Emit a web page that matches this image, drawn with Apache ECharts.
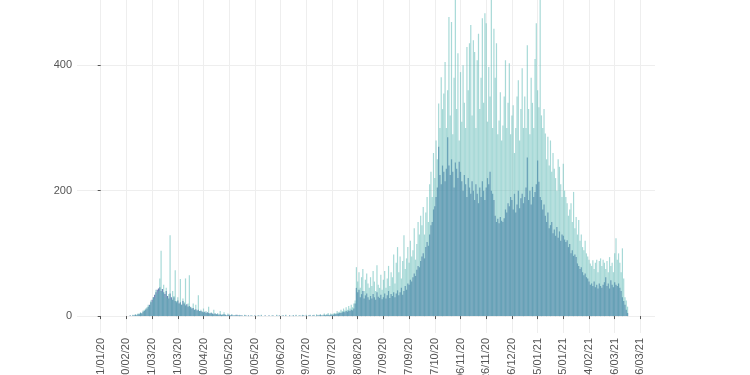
<!DOCTYPE html>
<html><head><meta charset="utf-8">
<script src="https://cdn.jsdelivr.net/npm/echarts@6/dist/echarts.min.js"></script>
<style>html,body{margin:0;padding:0;background:#fff}#c{width:750px;height:375px}</style>
</head><body><div id="c"></div>
<script>
const startDate = '2020-01-31';
const tickLabels = ['31/01/20','20/02/20','11/03/20','31/03/20','20/04/20','10/05/20','30/05/20','19/06/20','09/07/20','29/07/20','18/08/20','07/09/20','27/09/20','17/10/20','06/11/20','26/11/20','16/12/20','05/01/21','25/01/21','14/02/21','06/03/21','26/03/21'];
const yTicks = [0, 200, 400];
const blueValues = [
0,0,0,0,0,0,0,0,0,0, 0,0,0,0,0,0,0,0,0,0,
0,0,0,1,0,1,1,2,1,3, 3,5,4,7,8,10,12,15,18,22,
26,30,34,38,42,44,46,40,43,38, 35,40,32,28,36,30,26,30,24,22,
25,20,22,18,24,20,17,19,15,16, 14,12,13,10,11,9,10,8,8,7,
6,7,5,6,5,4,5,4,3,4, 3,3,2,3,2,2,3,2,1,2,
2,1,2,1,1,1,2,1,1,1, 1,0,1,1,0,1,0,1,0,0,
1,0,0,1,0,1,0,0,1,0, 0,1,0,0,1,0,0,1,0,1,
0,0,1,0,1,0,0,1,0,0, 1,0,1,0,0,1,0,1,1,0,
1,0,1,1,0,1,1,0,1,1, 1,2,1,1,2,1,2,2,1,2,
2,2,3,3,4,4,5,5,6,7, 6,8,7,9,8,10,9,12,20,45,
38,42,30,35,40,28,33,36,30,26, 32,28,35,30,26,38,31,29,34,27,
30,36,28,33,40,29,35,32,38,30, 36,41,33,38,45,34,40,48,42,52,
50,58,55,62,68,64,74,80,78,88, 95,100,92,110,118,112,130,145,150,170,
175,190,205,270,225,210,240,230,215,235, 285,240,225,250,230,205,245,235,220,246,
230,215,200,225,210,190,220,205,195,215, 200,185,210,195,180,205,190,215,200,185,
205,220,210,230,200,195,185,160,150,155, 148,158,152,150,156,170,165,180,175,190,
185,170,195,165,178,200,172,188,195,180, 190,205,253,185,200,178,206,190,198,210,
248,214,190,185,170,178,160,150,165,140, 145,150,132,138,128,142,125,135,120,130,
128,122,118,121,110,115,100,105,96,98, 94,84,80,75,78,70,65,68,62,60,
55,50,52,48,55,46,50,44,52,48, 45,50,54,62,48,52,44,57,50,46,
54,50,48,52,45,40,30,24,18,10, 5
];
const tealValues = [
0,0,0,0,0,0,0,0,0,0, 0,0,0,0,0,0,0,0,0,0,
0,0,0,1,0,2,1,3,2,4, 4,6,5,9,10,12,14,18,16,25,
22,30,28,42,35,40,60,104,38,50, 30,45,28,35,129,26,40,32,73,24,
30,20,59,18,28,22,60,16,20,65, 15,12,20,10,18,9,33,8,10,7,
12,6,8,5,15,4,6,3,10,4, 3,5,2,8,2,3,6,2,1,4,
2,1,3,1,1,2,1,1,2,1, 1,0,2,1,0,1,0,1,1,0,
1,0,1,1,0,2,0,0,1,0, 0,1,0,1,1,0,0,2,0,1,
0,1,1,0,2,0,0,1,0,1, 1,0,2,0,1,1,0,2,1,0,
2,0,1,2,0,1,2,0,3,1, 2,3,1,2,4,2,3,5,2,4,
3,4,5,4,8,6,7,10,8,12, 9,14,10,16,12,18,14,20,25,78,
55,70,45,62,75,40,58,68,52,45, 62,48,72,55,40,81,50,45,66,42,
58,72,45,60,80,48,70,62,98,52, 85,110,70,95,60,88,129,75,92,110,
85,120,95,105,140,90,115,150,130,160, 145,174,130,165,190,150,210,230,190,260,
220,280,250,339,300,381,330,355,405,300, 360,477,320,469,290,380,504,330,419,280,
389,310,400,340,300,429,360,435,464,320, 440,421,300,408,450,330,380,475,340,483,
467,310,397,350,504,300,458,380,435,290, 312,357,280,304,350,408,300,340,403,290,
320,336,260,300,350,376,280,330,395,300, 350,300,432,330,290,380,340,300,410,467,
360,333,504,320,300,330,291,250,286,240, 280,230,260,235,220,200,250,238,210,190,
243,200,190,180,160,170,180,150,198,140, 158,130,153,120,130,110,105,120,100,95,
90,84,80,89,75,85,90,70,88,92, 80,90,85,75,88,70,94,80,85,70,
100,124,90,100,85,70,108,60,30,25, 15
];

const DAY = 86400000;
const t0 = Date.parse(startDate + 'T00:00:00Z');
function parseDMY(s) { const p = s.split('/').map(Number); return Date.UTC(2000 + p[2], p[1] - 1, p[0]); }
const tickDays = tickLabels.map(s => Math.round((parseDMY(s) - t0) / DAY));
const blueData = blueValues.map((v, i) => [i, v]);
const tealData = tealValues.map((v, i) => [i, v]);

const gridColor = '#eeeeee';
const chart = echarts.init(document.getElementById('c'), null, {renderer: 'canvas'});
chart.setOption({
  animation: false,
  backgroundColor: '#ffffff',
  grid: {left: 77, right: 95, top: 0, bottom: 42, containLabel: false, outerBoundsMode: 'none'},
  xAxis: {
    type: 'value', min: -18.44, max: 431.36,
    axisLine: {show: false},
    splitLine: {show: true, lineStyle: {color: gridColor, width: 1}},
    axisTick: {show: true, length: 3, customValues: tickDays, lineStyle: {color: '#555', width: 1}},
    axisLabel: {
      customValues: tickDays, rotate: 90, margin: 5,
      fontFamily: 'Liberation Sans', fontSize: 11, color: '#555',
      formatter: v => { const k = tickDays.indexOf(Math.round(v)); return k >= 0 ? tickLabels[k] : ''; }
    }
  },
  yAxis: {
    type: 'value', min: -27, max: 504,
    axisLine: {show: false},
    splitLine: {show: true, lineStyle: {color: gridColor, width: 1}},
    axisTick: {show: true, length: 3, customValues: yTicks, lineStyle: {color: '#555', width: 1}},
    axisLabel: {customValues: yTicks, margin: 5, fontFamily: 'Liberation Sans', fontSize: 11, color: '#555'}
  },
  series: [
    {
      type: 'bar', data: blueData, barWidth: 1.2, barGap: '-100%', z: 2,
      itemStyle: {color: 'rgba(55,85,155,0.72)'}
    },
    {
      type: 'bar', data: tealData, barWidth: 1.2, barGap: '-100%', z: 3,
      itemStyle: {color: 'rgba(95,185,182,0.55)'}
    }
  ]
});
</script>
</body></html>
